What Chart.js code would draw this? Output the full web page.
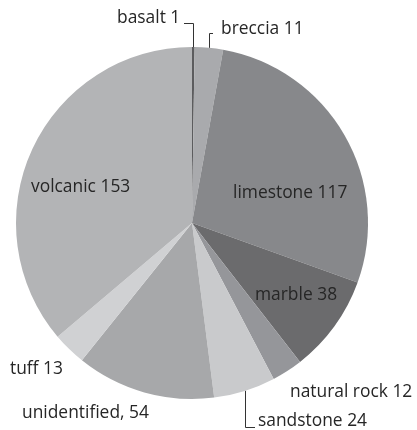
<!DOCTYPE html>
<html>
<head>
<meta charset="utf-8">
<script src="https://cdn.jsdelivr.net/npm/chart.js@4/dist/chart.umd.min.js"></script>
<style>
  html, body { margin: 0; padding: 0; background: #fff; }
  #wrap { width: 417px; height: 430px; position: relative; }
</style>
</head>
<body>
<div id="wrap"><canvas id="rocks"></canvas></div>
<script>
// rock types, clockwise from 12 o'clock
const categories = ['basalt', 'breccia', 'limestone', 'marble', 'natural rock', 'sandstone', 'unidentified', 'tuff', 'volcanic'];
const counts = [1, 11, 117, 38, 12, 24, 54, 13, 153];
const labelText = ['basalt 1', 'breccia 11', 'limestone 117', 'marble 38', 'natural rock 12', 'sandstone 24', 'unidentified, 54', 'tuff 13', 'volcanic 153'];

const sliceColors = ['#5c5c5e', '#a9aaad', '#87888b', '#6b6b6d', '#95969a', '#c9cacc', '#a7a8aa', '#d0d1d3', '#b3b4b6'];

// label placement: text left x, text middle y, and leader type
const labelLayout = [
  { x: 117, y: 18, leader: true, bendY: 23, endX: 184 },
  { x: 221, y: 29, leader: true, bendY: 33, endX: 213 },
  { x: 233, y: 193 },
  { x: 255, y: 295 },
  { x: 290, y: 392 },
  { x: 258, y: 421, leader: true, bendY: 427, endX: 255 },
  { x: 22, y: 413 },
  { x: 10, y: 369 },
  { x: 31, y: 187 },
];

const labelPlugin = {
  id: 'rockLabels',
  afterDatasetsDraw(chart) {
    const ctx = chart.ctx;
    const arcs = chart.getDatasetMeta(0).data;
    ctx.save();
    ctx.font = '17.4px "Open Sans", sans-serif';
    ctx.fillStyle = '#262626';
    ctx.textBaseline = 'middle';
    ctx.textAlign = 'left';
    ctx.strokeStyle = '#333';
    ctx.lineWidth = 1;
    arcs.forEach((arc, i) => {
      const lay = labelLayout[i];
      ctx.fillText(labelText[i], lay.x, lay.y);
      if (lay.leader) {
        const mid = (arc.startAngle + arc.endAngle) / 2;
        const px = arc.x + Math.cos(mid) * arc.outerRadius;
        const py = arc.y + Math.sin(mid) * arc.outerRadius;
        ctx.beginPath();
        ctx.moveTo(Math.round(px) + 0.5, py);
        ctx.lineTo(Math.round(px) + 0.5, lay.bendY + 0.5);
        ctx.lineTo(lay.endX, lay.bendY + 0.5);
        ctx.stroke();
      }
    });
    ctx.restore();
  }
};

new Chart(document.getElementById('rocks'), {
  type: 'pie',
  data: {
    labels: categories,
    datasets: [{
      data: counts,
      backgroundColor: sliceColors,
      borderWidth: 0,
    }],
  },
  options: {
    responsive: true,
    maintainAspectRatio: false,
    animation: false,
    layout: { padding: { left: 16, top: 47, right: 49, bottom: 31 } },
    plugins: { legend: { display: false }, tooltip: { enabled: false } },
  },
  plugins: [labelPlugin],
});
</script>
</body>
</html>
